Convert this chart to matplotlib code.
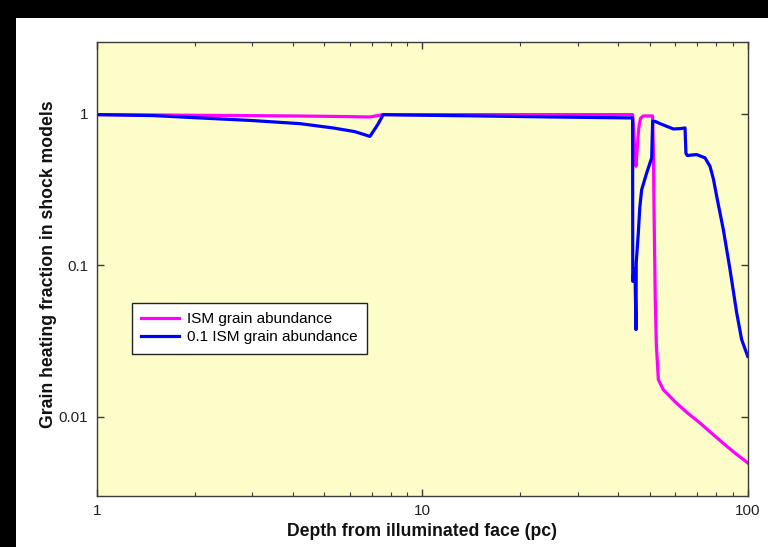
import matplotlib
matplotlib.use("Agg")
import matplotlib.pyplot as plt
from matplotlib.patches import Rectangle
from matplotlib.ticker import FixedLocator, NullLocator, LogLocator, NullFormatter

plt.rcParams['font.family'] = ['Liberation Sans', 'DejaVu Sans']

# ---- data ----
ism_x = [1.0, 1.5, 2.0, 3.0, 4.0, 5.0, 6.0, 6.91, 7.59, 10.0, 20.0, 30.0, 44.3,
         44.6, 45.0, 45.38, 45.8, 46.13, 46.5, 46.9, 47.8, 51.0, 51.3, 51.6, 52.0,
         52.4, 53.15, 55.06, 60.0, 65.0, 71.38, 78.0, 86.2, 92.0, 100.0]
ism_y = [0.99, 0.985, 0.98, 0.975, 0.97, 0.965, 0.96, 0.955, 0.99, 0.99, 0.99, 0.99, 0.99,
         0.8, 0.55, 0.451, 0.6, 0.75, 0.87, 0.94, 0.97, 0.97, 0.6, 0.2, 0.06,
         0.03, 0.0176, 0.0151, 0.0125, 0.0107, 0.0091, 0.0077, 0.0064, 0.0057, 0.00497]

low_x = [1.0, 1.5, 2.08, 3.0, 4.21, 5.33, 6.2, 6.91, 7.3, 7.59, 8.5, 15.0, 25.0, 44.3,
         44.35, 44.8, 45.1, 45.38, 45.45, 46.13, 46.6, 47.23, 48.94, 50.7,
         51.05, 51.91, 54.0, 56.38, 59.1, 62.0, 64.19, 64.6, 65.25, 67.0, 69.7,
         73.94, 76.6, 78.5, 80.3, 84.18, 88.25, 92.5, 95.8, 100.0]
low_y = [0.99, 0.975, 0.941, 0.905, 0.863, 0.808, 0.765, 0.711, 0.85, 0.99, 0.985, 0.97, 0.955, 0.941,
         0.0785, 0.095, 0.08, 0.0377, 0.104, 0.164, 0.24, 0.316, 0.408, 0.513,
         0.894, 0.894, 0.86, 0.829, 0.796, 0.8, 0.808, 0.55, 0.531, 0.535, 0.539,
         0.513, 0.451, 0.37, 0.286, 0.172, 0.0938, 0.0486, 0.0324, 0.0251]

series_labels = ["ISM grain abundance", "0.1 ISM grain abundance"]
x_ticks = [1, 10, 100]
x_tick_labels = ["1", "10", "100"]
y_ticks = [0.01, 0.1, 1]
y_tick_labels = ["0.01", "0.1", "1"]
x_label = "Depth from illuminated face (pc)"
y_label = "Grain heating fraction in shock models"

# ---- figure ----
W, H = 768, 547
fig = plt.figure(figsize=(W / 100, H / 100), dpi=100, facecolor='black')
fig.add_artist(Rectangle((16 / W, 0), 1 - 16 / W, 1 - 18 / H, transform=fig.transFigure,
                         facecolor='white', edgecolor='none', zorder=-10))

left, right, top, bottom = 96.7, 747.7, 41.7, 496.0
ax = fig.add_axes([left / W, 1 - bottom / H, (right - left) / W, (bottom - top) / H])
ax.set_facecolor('#fdfdc9')

ax.plot(ism_x, ism_y, color='#ff00ff', lw=2.3, label=series_labels[0], solid_joinstyle='round')
ax.plot(low_x, low_y, color='#0000ff', lw=2.3, label=series_labels[1], solid_joinstyle='round')

ax.set_xscale('log')
ax.set_yscale('log')
ax.set_xlim(1, 100)
ax.set_ylim(0.003, 3.0)

ax.xaxis.set_major_locator(FixedLocator(x_ticks))
ax.set_xticklabels(x_tick_labels)
ax.xaxis.set_minor_locator(LogLocator(base=10, subs=range(2, 10)))
ax.xaxis.set_minor_formatter(NullFormatter())
ax.yaxis.set_major_locator(FixedLocator(y_ticks))
ax.set_yticklabels(y_tick_labels)
ax.yaxis.set_minor_locator(NullLocator())

for s in ax.spines.values():
    s.set_color('#3a3a3a')
    s.set_linewidth(1.0)

ax.tick_params(which='both', direction='in', top=True, right=True, colors='#3a3a3a',
               labelcolor='#222222', labelsize=11)
ax.tick_params(which='major', length=5, width=1.0, pad=6)
ax.tick_params(which='minor', length=3, width=0.8)

ax.set_xlabel(x_label, fontsize=12.7, fontweight='bold', color='#111111')
ax.set_ylabel(y_label, fontsize=12.7, fontweight='bold', color='#111111')
ax.xaxis.set_label_coords(0.5, (bottom - 523) / (bottom - top))
ax.yaxis.set_label_coords((57 - left) / (right - left), 0.51)

leg = ax.legend(loc='upper left', bbox_to_anchor=((131.7 - left) / (right - left), (bottom - 302.7) / (bottom - top)),
                borderaxespad=0, fancybox=False, framealpha=1, edgecolor='#222222',
                fontsize=11, handlelength=2.5, handletextpad=0.55, borderpad=0.6, labelspacing=0.3)
leg.get_frame().set_linewidth(1.0)

fig.savefig('out.png', dpi=100, facecolor=fig.get_facecolor())
